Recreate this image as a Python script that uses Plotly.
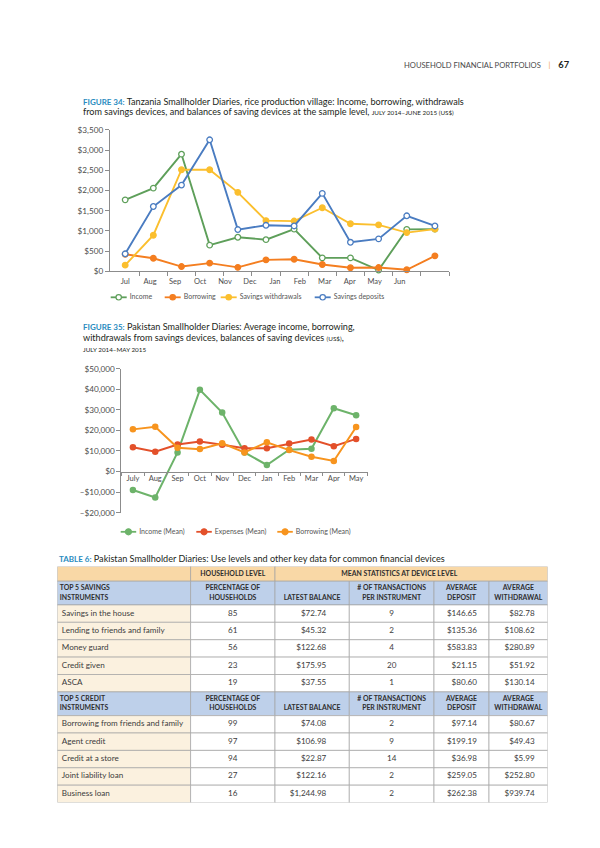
import plotly.graph_objects as go

# ------------------------------------------------------------------ data
months34 = ["Jul", "Aug", "Sep", "Oct", "Nov", "Dec", "Jan", "Feb", "Mar", "Apr", "May", "Jun"]
income34 = [1770, 2060, 2900, 650, 845, 785, 1045, 335, 335, 35, 1040, 1045]
borrowing34 = [425, 325, 120, 205, 100, 285, 300, 170, 90, 95, 40, 385]
withdrawals34 = [155, 895, 2515, 2515, 1955, 1255, 1245, 1575, 1180, 1150, 960, 1045]
deposits34 = [435, 1605, 2135, 3255, 1035, 1140, 1125, 1930, 720, 805, 1375, 1125]
yticks34 = [0, 500, 1000, 1500, 2000, 2500, 3000, 3500]

months35 = ["July", "Aug", "Sep", "Oct", "Nov", "Dec", "Jan", "Feb", "Mar", "Apr", "May"]
income35 = [-8970, -12660, 9300, 39740, 28690, 9300, 3200, 10580, 11060, 30770, 27400]
expenses35 = [11860, 9620, 13140, 14580, 12980, 11380, 11380, 13620, 15540, 12340, 15870]
borrowing35 = [20510, 21790, 11540, 10900, 13780, 9300, 14260, 10420, 7210, 5130, 21630]
yticks35 = [-20000, -10000, 0, 10000, 20000, 30000, 40000, 50000]

top_header = ["", "HOUSEHOLD LEVEL", "MEAN STATISTICS AT DEVICE LEVEL"]
col_heads = [["INSTRUMENTS"], ["PERCENTAGE OF", "HOUSEHOLDS"], ["LATEST BALANCE"],
             ["# OF TRANSACTIONS", "PER INSTRUMENT"], ["AVERAGE", "DEPOSIT"], ["AVERAGE", "WITHDRAWAL"]]
group_titles = ["TOP 5 SAVINGS", "TOP 5 CREDIT"]

savings_names = ["Savings in the house", "Lending to friends and family", "Money guard", "Credit given", "ASCA"]
savings_pct = [85, 61, 56, 23, 19]
savings_balance = [72.74, 45.32, 122.68, 175.95, 37.55]
savings_tx = [9, 2, 4, 20, 1]
savings_deposit = [146.65, 135.36, 583.83, 21.15, 80.60]
savings_withdrawal = [82.78, 108.62, 280.89, 51.92, 130.14]

credit_names = ["Borrowing from friends and family", "Agent credit", "Credit at a store",
                "Joint liability loan", "Business loan"]
credit_pct = [99, 97, 94, 27, 16]
credit_balance = [74.08, 106.98, 22.87, 122.16, 1244.98]
credit_tx = [2, 9, 14, 2, 2]
credit_deposit = [97.14, 199.19, 36.98, 259.05, 262.38]
credit_withdrawal = [80.67, 49.43, 5.99, 252.80, 939.74]

# ------------------------------------------------------------------ style
W, H = 600, 848
FONT = "Lato"
TXT = "#231F20"
AX = "#8C8C8C"
TICK_TXT = "#4D4D4D"
GREEN1, ORANGE1, YELLOW1, BLUE1 = "#5E9F5A", "#F47E20", "#FBBF2E", "#4A7CC1"
GREEN2, RED2, ORANGE2 = "#6DB36A", "#E3502A", "#F7941E"
TEAL = "#2A8CC0"
ORANGE_FILL, BLUE_FILL, CREAM_FILL = "#F9D8A6", "#BED0EA", "#FBF1DF"
BORDER = "#A3A3A3"
CAP = 9.1          # caption font size
SMALLCAP = 6.3


def fx(px):
    return px / W


def fy(py):
    return 1 - py / H


def money(v):
    return "${:,.2f}".format(v)


def axis_money(v):
    return ("\u2013$" if v < 0 else "$") + "{:,}".format(abs(v))


fig = go.Figure()

# ------------------------------------------------------------------ figure 34
series34 = [("Income", income34, GREEN1, True), ("Borrowing", borrowing34, ORANGE1, False),
            ("Savings withdrawals", withdrawals34, YELLOW1, False),
            ("Savings deposits", deposits34, BLUE1, True)]
for name, vals, col, hollow in series34:
    fig.add_trace(go.Scatter(
        x=list(range(len(months34))), y=vals, name=name, mode="lines+markers",
        line=dict(color=col, width=1.9),
        marker=dict(symbol="circle", size=5.6, color="white" if hollow else col,
                    line=dict(color=col, width=1.3)),
        xaxis="x", yaxis="y", showlegend=False, cliponaxis=False, hoverinfo="skip"))

# ------------------------------------------------------------------ figure 35
series35 = [("Income (Mean)", income35, GREEN2), ("Expenses (Mean)", expenses35, RED2),
            ("Borrowing (Mean)", borrowing35, ORANGE2)]
for name, vals, col in series35:
    fig.add_trace(go.Scatter(
        x=months35, y=vals, name=name, mode="lines+markers",
        line=dict(color=col, width=2),
        marker=dict(symbol="circle", size=6.5, color=col),
        xaxis="x2", yaxis="y2", showlegend=False, cliponaxis=False, hoverinfo="skip"))

# ------------------------------------------------------------------ legends (drawn on a page-pixel axis)
legend_rows = [
    (287.7, [102.7, 156.7, 212.7, 306.7], 16.0, [(n, c, h) for n, _, c, h in series34], 5.4),
    (525.0, [112.7, 188.3, 269.3], 15.5, [(n, c, False) for n, _, c in series35], 6.0),
]
leg_tx, leg_ty, leg_tt = [], [], []
for ly, starts, seg, items, msize in legend_rows:
    for sx, (name, col, hollow) in zip(starts, items):
        fig.add_trace(go.Scatter(x=[sx, sx + seg], y=[ly, ly], mode="lines",
                                 line=dict(color=col, width=1.8), xaxis="x5", yaxis="y5",
                                 showlegend=False, hoverinfo="skip", cliponaxis=False))
        fig.add_trace(go.Scatter(x=[sx + seg / 2], y=[ly], mode="markers",
                                 marker=dict(size=msize, color="white" if hollow else col,
                                             line=dict(color=col, width=1.2)),
                                 xaxis="x5", yaxis="y5", showlegend=False, hoverinfo="skip",
                                 cliponaxis=False))
        leg_tx.append(sx + seg + 3.0); leg_ty.append(ly); leg_tt.append(name)
fig.add_trace(go.Scatter(x=leg_tx, y=leg_ty, text=leg_tt, mode="text", textposition="middle right",
                         textfont=dict(family=FONT, size=7.0, color="#555555"),
                         xaxis="x5", yaxis="y5", showlegend=False, hoverinfo="skip", cliponaxis=False))

# ------------------------------------------------------------------ table 6
col_w = [133.3, 84.4, 74.3, 84.7, 55.0, 58.6]
row_h_top, row_h_head, row_h_data = 15.0, 24.0, 17.6
col_x0 = [sum(col_w[:i]) for i in range(len(col_w))]
col_x1 = [sum(col_w[:i + 1]) for i in range(len(col_w))]
col_align = ["left", "center", "right", "center", "right", "right"]
col_pad = [4.5, 0, 23, 0, 12, 13]
TBL_TOP = 560.0
TBL_LEFT = 49.3

groups = [
    (group_titles[0], savings_names, savings_pct, savings_balance, savings_tx, savings_deposit, savings_withdrawal),
    (group_titles[1], credit_names, credit_pct, credit_balance, credit_tx, credit_deposit, credit_withdrawal),
]

shapes = []
tx, ty, tt, tp, ts, tc = [], [], [], [], [], []


def add_text(x, y, text, pos, size, color):
    tx.append(x); ty.append(y); tt.append(text); tp.append(pos); ts.append(size); tc.append(color)


def cell(x0, x1, y0, y1, fill, line_col=BORDER):
    shapes.append(dict(type="rect", xref="x4", yref="y4", x0=x0, x1=x1, y0=y0, y1=y1,
                       fillcolor=fill, line=dict(color=line_col, width=0.7), layer="below"))


def text_x(ci):
    a = col_align[ci]
    if a == "left":
        return col_x0[ci] + col_pad[ci], "middle right"
    if a == "right":
        return col_x1[ci] - col_pad[ci], "middle left"
    return (col_x0[ci] + col_x1[ci]) / 2, "middle center"


HEAD_SIZE, HEAD_COL = 6.9, "#2E2E2E"
y = 0.0
cell(col_x0[0], col_x1[0], y, y + row_h_top, ORANGE_FILL)
cell(col_x0[1], col_x1[1], y, y + row_h_top, ORANGE_FILL)
cell(col_x0[2], col_x1[-1], y, y + row_h_top, ORANGE_FILL)
add_text((col_x0[1] + col_x1[1]) / 2, y + row_h_top / 2, "<b>" + top_header[1] + "</b>",
         "middle center", HEAD_SIZE, HEAD_COL)
add_text((col_x0[2] + col_x1[-1]) / 2 - 12, y + row_h_top / 2, "<b>" + top_header[2] + "</b>",
         "middle center", HEAD_SIZE, HEAD_COL)
y += row_h_top

for title, names, pct, bal, txn, dep, wd in groups:
    for ci in range(len(col_w)):
        cell(col_x0[ci], col_x1[ci], y, y + row_h_head, BLUE_FILL)
        lines = ([title] + col_heads[0]) if ci == 0 else col_heads[ci]
        xc = col_x0[0] + 2.5 if ci == 0 else (col_x0[ci] + col_x1[ci]) / 2
        pos = "middle right" if ci == 0 else "middle center"
        mid = y + row_h_head / 2
        ys = [mid - 5.0, mid + 5.0] if len(lines) == 2 else [mid + 5.0]
        for ln, yy in zip(lines, ys):
            add_text(xc, yy, "<b>" + ln + "</b>", pos, HEAD_SIZE, HEAD_COL)
    y += row_h_head
    for r in range(len(names)):
        vals = [names[r], str(pct[r]), money(bal[r]), str(txn[r]), money(dep[r]), money(wd[r])]
        for ci in range(len(col_w)):
            cell(col_x0[ci], col_x1[ci], y, y + row_h_data, CREAM_FILL if ci == 0 else "white")
            xx, pos = text_x(ci)
            add_text(xx, y + row_h_data / 2, vals[ci], pos, 8.1, "#3C3C3C")
        y += row_h_data
TBL_H = y

fig.add_trace(go.Scatter(x=tx, y=ty, text=tt, mode="text", textposition=tp,
                         textfont=dict(size=ts, color=tc, family=FONT),
                         xaxis="x4", yaxis="y4", showlegend=False, hoverinfo="skip", cliponaxis=False))

# ------------------------------------------------------------------ page texts
ann = []


def note(xp, yp, text, size, color=TXT, anchor="left"):
    ann.append(dict(xref="paper", yref="paper", x=fx(xp), y=fy(yp), xanchor=anchor, yanchor="middle",
                    text=text, showarrow=False, font=dict(family=FONT, size=size, color=color)))


note(564, 52.3, "HOUSEHOLD FINANCIAL PORTFOLIOS&nbsp;&nbsp;&nbsp;&nbsp;<span style='color:#F3A24A'>|</span>"
     "&nbsp;&nbsp;&nbsp;&nbsp;<b><span style='font-size:9.3px;color:#231F20'>67</span></b>", 7.6, "#4A4A4A", "right")

fig_lab = "<b><span style='color:%s;font-size:8px'>%s</span></b> "
note(72.7, 89.3, fig_lab % (TEAL, "FIGURE 34:") + "Tanzania Smallholder Diaries, "
     "rice production village: Income, borrowing, withdrawals", CAP)
note(72.7, 100.0, "from savings devices, and balances of saving devices at the sample level, "
     "<span style='font-size:%spx'>JULY 2014\u2013JUNE 2015 (US$)</span>" % SMALLCAP, CAP)

note(72.7, 317.3, fig_lab % (TEAL, "FIGURE 35:") + "Pakistan Smallholder Diaries: "
     "Average income, borrowing,", CAP)
note(72.7, 328.3, "withdrawals from savings devices, balances of saving devices "
     "<span style='font-size:%spx'>(US$)</span>," % SMALLCAP, CAP)
note(72.7, 340.3, "JULY 2014\u2013MAY 2015", SMALLCAP)

note(TBL_LEFT, 551.7, fig_lab % (TEAL, "TABLE 6:") + "Pakistan Smallholder Diaries: "
     "Use levels and other key data for common financial devices", CAP)

# ------------------------------------------------------------------ layout
tickfont = dict(family=FONT, size=8.2, color=TICK_TXT)
monthfont = dict(family=FONT, size=7.5, color=TICK_TXT)
common_axis = dict(showgrid=False, zeroline=False, linecolor=AX, linewidth=0.8, tickcolor=AX,
                   tickwidth=0.8, ticklen=4)

C1_X0, C1_X1, C1_YT, C1_YB = 101.7, 441.0, 118.3, 261.5
C2_X0, C2_X1, C2_YT, C2_YB, C2_Y0 = 113.3, 359.3, 360.0, 505.6, 464.0
x1_range = [-0.55, len(months34) - 0.5]
label_step = 0.886

fig.update_layout(
    width=W, height=H, margin=dict(l=0, r=0, t=0, b=0),
    paper_bgcolor="white", plot_bgcolor="rgba(0,0,0,0)",
    font=dict(family=FONT, color=TXT), showlegend=False,
    shapes=shapes, annotations=ann,
    xaxis=dict(domain=[fx(C1_X0), fx(C1_X1)], range=x1_range, anchor="y", showline=True,
               tickmode="array", tickvals=[i * label_step for i in range(len(months34))],
               ticktext=months34, ticks="", tickfont=monthfont, ticklabelstandoff=3,
               minor=dict(tickmode="array", tickvals=[i + 0.5 for i in range(len(months34))],
                          ticks="outside", ticklen=4, tickcolor=AX, tickwidth=0.8, showgrid=False),
               showgrid=False, zeroline=False, linecolor=AX, linewidth=0.8),
    yaxis=dict(domain=[fy(C1_YB), fy(C1_YT)], range=[0, 3500], anchor="x", showline=True,
               ticks="outside", tickmode="array", tickvals=yticks34,
               ticktext=[axis_money(v) for v in yticks34], tickfont=tickfont, **common_axis),
    xaxis2=dict(domain=[fx(C2_X0), fx(C2_X1)], type="category", range=[-0.52, len(months35) - 0.5],
                anchor="free", position=fy(C2_Y0), showline=True, ticks="outside",
                tickson="boundaries", tickangle=0, tickfont=monthfont, **common_axis),
    yaxis2=dict(domain=[fy(C2_YB), fy(C2_YT)], range=[-20000, 50000], anchor="x2", showline=True,
                ticks="outside", tickmode="array", tickvals=yticks35,
                ticktext=[axis_money(v) for v in yticks35], tickfont=tickfont, **common_axis),
    xaxis4=dict(domain=[fx(TBL_LEFT), fx(TBL_LEFT + sum(col_w))], range=[0, sum(col_w)], visible=False,
                anchor="y4", fixedrange=True),
    yaxis4=dict(domain=[fy(TBL_TOP + TBL_H), fy(TBL_TOP)], range=[TBL_H, 0], visible=False,
                anchor="x4", fixedrange=True),
    xaxis5=dict(domain=[0, 1], range=[0, W], visible=False, anchor="y5", fixedrange=True),
    yaxis5=dict(domain=[0, 1], range=[H, 0], visible=False, anchor="x5", fixedrange=True),
)

fig.write_html("out.html")
